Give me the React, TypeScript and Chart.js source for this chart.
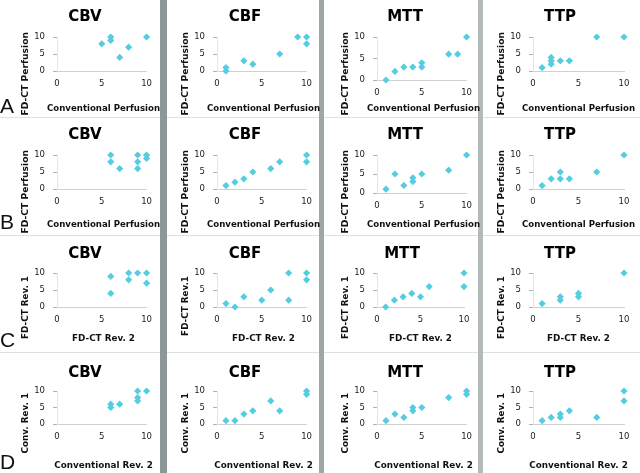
import React, { useEffect, useRef } from 'react';
import { Chart, registerables } from 'chart.js';

Chart.register(...registerables);

// ---- data ----
const rowLetters = ['A', 'B', 'C', 'D'];
const parameters = ['CBV', 'CBF', 'MTT', 'TTP'];
const tickValues = [0, 5, 10];

const xTitles = ['Conventional Perfusion', 'Conventional Perfusion', 'FD-CT Rev. 2', 'Conventional Rev. 2'];
const yTitlesA = ['FD-CT Perfusion', 'FD-CT Perfusion', 'FD-CT Perfusion', 'FD-CT Perfusion'];
const yTitlesB = ['FD-CT Perfusion', 'FD-CT Perfusion', 'FD-CT Perfusion', 'FD-CT Perfusion'];
const yTitlesC = ['FD-CT Rev. 1', 'FD-CT Rev.1', 'FD-CT Rev. 1', 'FD-CT Rev. 1'];
const yTitlesD = ['Conv. Rev. 1', 'Conv. Rev. 1', 'Conv. Rev. 1', 'Conv. Rev. 1'];

type Pt = [number, number];
const aCBV: Pt[] = [[5, 8], [6, 9], [6, 10], [7, 4], [8, 7], [10, 10]];
const aCBF: Pt[] = [[1, 0], [1, 1], [3, 3], [4, 2], [7, 5], [9, 10], [10, 10], [10, 8]];
const aMTT: Pt[] = [[1, 0], [2, 2], [3, 3], [4, 3], [5, 3], [5, 4], [8, 6], [9, 6], [10, 10]];
const aTTP: Pt[] = [[1, 1], [2, 2], [2, 3], [2, 4], [3, 3], [4, 3], [7, 10], [10, 10]];

const bCBV: Pt[] = [[6, 10], [6, 8], [7, 6], [9, 10], [9, 8], [9, 6], [10, 10], [10, 9]];
const bCBF: Pt[] = [[1, 1], [2, 2], [3, 3], [4, 5], [6, 6], [7, 8], [10, 10], [10, 8]];
const bMTT: Pt[] = [[1, 1], [2, 5], [3, 2], [4, 4], [4, 3], [5, 5], [8, 6], [10, 10]];
const bTTP: Pt[] = [[1, 1], [2, 3], [3, 5], [3, 3], [4, 3], [7, 5], [10, 10]];

const cCBV: Pt[] = [[6, 9], [6, 4], [8, 10], [8, 8], [9, 10], [10, 10], [10, 7]];
const cCBF: Pt[] = [[1, 1], [2, 0], [3, 3], [5, 2], [6, 5], [8, 10], [8, 2], [10, 10], [10, 8]];
const cMTT: Pt[] = [[1, 0], [2, 2], [3, 3], [4, 4], [5, 3], [6, 6], [10, 10], [10, 6]];
const cTTP: Pt[] = [[1, 1], [3, 2], [3, 3], [5, 3], [5, 4], [10, 10]];

const dCBV: Pt[] = [[6, 5], [6, 6], [7, 6], [9, 7], [9, 8], [9, 10], [10, 10]];
const dCBF: Pt[] = [[1, 1], [2, 1], [3, 3], [4, 4], [6, 7], [7, 4], [10, 9], [10, 10]];
const dMTT: Pt[] = [[1, 1], [2, 3], [3, 2], [4, 4], [4, 5], [5, 5], [8, 8], [10, 9], [10, 10]];
const dTTP: Pt[] = [[1, 1], [2, 2], [3, 2], [3, 3], [4, 4], [7, 2], [10, 7], [10, 10]];

const grid: Pt[][][] = [
  [aCBV, aCBF, aMTT, aTTP],
  [bCBV, bCBF, bMTT, bTTP],
  [cCBV, cCBF, cMTT, cTTP],
  [dCBV, dCBF, dMTT, dTTP],
];
const yTitles = [yTitlesA, yTitlesB, yTitlesC, yTitlesD];

// ---- layout / style ----
const FONT = "'DejaVu Sans', Verdana, sans-serif";
const MARKER = '#55cde1';
const rowTops = [0, 118, 236, 353];
const rowHeights = [118, 118, 117, 120];
const titleCenters = [17, 17, 18, 20];
const plotTops = [37, 37, 37, 38];
const xTitleCenters = [108, 106, 102, 112];
const xTitleSizes = [8.6, 8.6, 8.8, 8.8];
const yTitleSizes = [9.2, 9.2, 8.8, 8.8];
const yTitleTops = [32, 32, 40, 40];
const PLOT_LEFT = 57;
const colLefts = [0, 160, 320, 476];
const colWidths = [160, 160, 160, 164];
const colRightPads = [10, 10, 10, 16];
const plotBottomOverride: Record<string, number> = { '0-2': 80, '1-2': 75 };
const rightPadOverride: Record<string, number> = { '2-2': 16 };
const letterCenters = [106, 222, 340, 462];

function rightPadOf(r: number, c: number) {
  return rightPadOverride[`${r}-${c}`] ?? colRightPads[c];
}

function makeConfig(r: number, c: number): any {
  const H = rowHeights[r];
  const plotBottom = plotBottomOverride[`${r}-${c}`] ?? 71;
  const titleSize = 15;
  const titleLH = titleSize * 1.2;
  const titlePadTop = titleCenters[r] - titleLH / 2;
  const titlePadBottom = plotTops[r] - titlePadTop - titleLH;
  const pts = grid[r][c];
  return {
    type: 'scatter',
    data: {
      datasets: [
        {
          data: pts.map(([x, y]) => ({ x, y })),
          pointStyle: 'rectRot',
          radius: 3.6,
          backgroundColor: MARKER,
          borderWidth: 0,
          clip: false,
        },
      ],
    },
    options: {
      responsive: false,
      animation: false,
      events: [],
      layout: { padding: { left: 20, right: rightPadOf(r, c), top: 0, bottom: 0 } },
      plugins: {
        legend: { display: false },
        tooltip: { enabled: false },
        title: {
          display: true,
          text: parameters[c],
          color: '#000',
          font: { family: FONT, size: titleSize, weight: 'bold', lineHeight: 1.2 },
          padding: { top: titlePadTop, bottom: titlePadBottom },
        },
      },
      scales: {
        x: {
          type: 'linear',
          min: tickValues[0],
          max: tickValues[tickValues.length - 1],
          afterBuildTicks: (s: any) => { s.ticks = tickValues.map((v) => ({ value: v })); },
          ticks: { color: '#222', font: { family: FONT, size: 8.5 }, padding: 8, maxRotation: 0 },
          grid: { display: false, drawTicks: false, tickLength: 0 },
          border: { display: true, color: '#d0d0d0', width: 1 },
          title: { display: false },
          afterFit: (s: any) => { s.height = H - plotBottom; },
        },
        y: {
          type: 'linear',
          min: tickValues[0],
          max: tickValues[tickValues.length - 1],
          afterBuildTicks: (s: any) => { s.ticks = tickValues.map((v) => ({ value: v })); },
          ticks: { color: '#222', font: { family: FONT, size: 8.5 }, padding: 8 },
          grid: { display: true, drawOnChartArea: false, drawTicks: true, tickLength: 4, color: '#b0b0b0' },
          border: { display: true, color: '#e6e6e6', width: 1 },
          title: { display: false },
          afterFit: (s: any) => { s.width = PLOT_LEFT - 20; },
        },
      },
    },
  };
}

function Panel({ r, c }: { r: number; c: number }) {
  const ref = useRef<HTMLCanvasElement>(null);
  const width = colWidths[c];
  const height = rowHeights[r];
  useEffect(() => {
    const chart = new Chart(ref.current as HTMLCanvasElement, makeConfig(r, c));
    return () => chart.destroy();
  }, [r, c]);
  const plotRight = width - rightPadOf(r, c);
  const xCenter = colLefts[c] + (PLOT_LEFT + plotRight) / 2;
  return (
    <>
      <canvas
        ref={ref}
        width={width}
        height={height}
        style={{ position: 'absolute', left: colLefts[c], top: rowTops[r], width, height }}
      />
      <div
        style={{
          position: 'absolute',
          left: xCenter,
          top: rowTops[r] + xTitleCenters[r],
          transform: 'translate(-50%, -50%)',
          whiteSpace: 'nowrap',
          fontFamily: FONT,
          fontWeight: 'bold',
          fontSize: xTitleSizes[r],
          lineHeight: 1.2,
          color: '#111',
        }}
      >
        {xTitles[r]}
      </div>
      <div
        style={{
          position: 'absolute',
          left: colLefts[c] + 25,
          top: rowTops[r] + yTitleTops[r],
          transformOrigin: '0 0',
          transform: 'rotate(-90deg) translate(-100%, -50%)',
          whiteSpace: 'nowrap',
          fontFamily: FONT,
          fontWeight: 'bold',
          fontSize: yTitleSizes[r],
          lineHeight: 1.2,
          color: '#111',
        }}
      >
        {yTitles[r][c]}
      </div>
    </>
  );
}

export default function App() {
  const bars = [
    { left: 160, width: 7, color: '#8d9797' },
    { left: 319, width: 5, color: '#9ea6a6' },
    { left: 478, width: 5, color: '#b3baba' },
  ];
  const hLines = [117, 235, 352];
  return (
    <div
      style={{
        position: 'fixed',
        left: 0,
        top: 0,
        width: 640,
        height: 473,
        background: '#ffffff',
        overflow: 'hidden',
      }}
    >
      {hLines.map((y) => (
        <div key={'h' + y} style={{ position: 'absolute', left: 0, top: y, width: 640, height: 1, background: '#dde1e1' }} />
      ))}
      {bars.map((b) => (
        <div key={'b' + b.left} style={{ position: 'absolute', left: b.left, top: 0, width: b.width, height: 473, background: b.color }} />
      ))}
      {grid.map((row, r) => row.map((_, c) => <Panel key={`${r}-${c}`} r={r} c={c} />))}
      {rowLetters.map((L, r) => (
        <div
          key={L}
          style={{
            position: 'absolute',
            left: 0,
            top: letterCenters[r] - 12,
            height: 24,
            lineHeight: '24px',
            fontFamily: "'Liberation Sans', Arial, sans-serif",
            fontSize: 21,
            color: '#111',
          }}
        >
          {L}
        </div>
      ))}
    </div>
  );
}
